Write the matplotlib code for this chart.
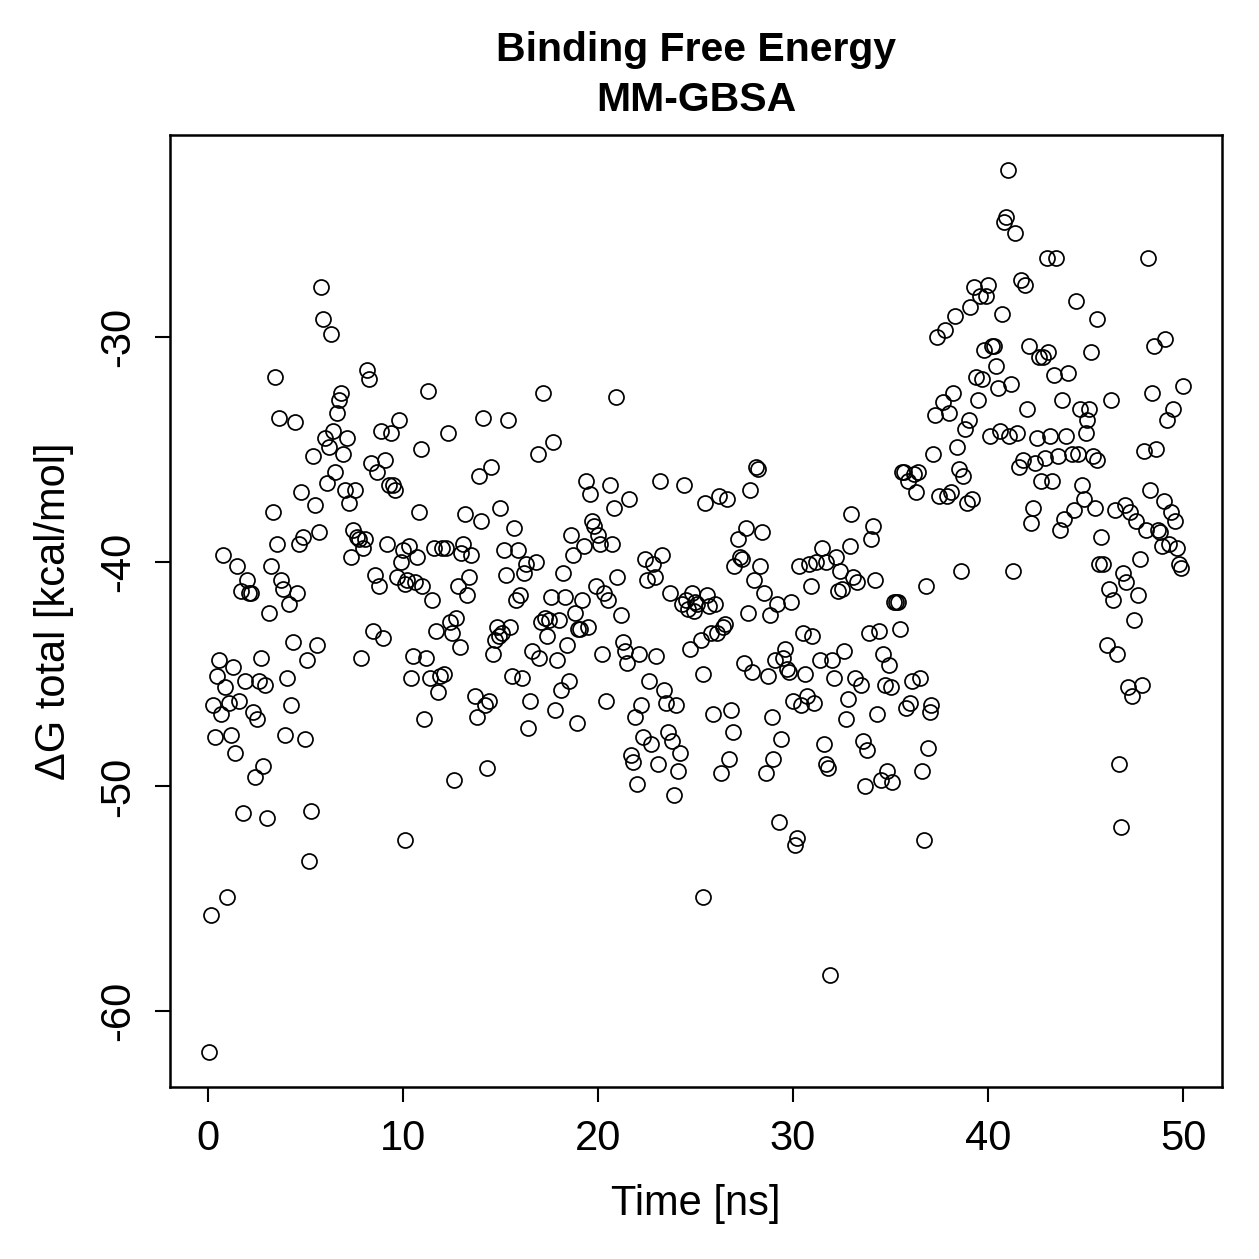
import matplotlib
matplotlib.use("Agg")
import matplotlib.pyplot as plt

plt.rcParams['font.family'] = ['Liberation Sans', 'DejaVu Sans']

# time [ns] and total binding free energy [kcal/mol]
time_ns = [
    0.05, 0.15, 0.26, 0.36, 0.46, 0.56, 0.67, 0.77, 0.87, 0.97,
    1.08, 1.18, 1.28, 1.38, 1.49, 1.59, 1.69, 1.79, 1.90, 2.00,
    2.10, 2.20, 2.31, 2.41, 2.51, 2.61, 2.72, 2.82, 2.92, 3.02,
    3.12, 3.23, 3.33, 3.43, 3.53, 3.64, 3.74, 3.84, 3.94, 4.05,
    4.15, 4.25, 4.35, 4.46, 4.56, 4.66, 4.76, 4.87, 4.97, 5.07,
    5.17, 5.28, 5.38, 5.48, 5.58, 5.69, 5.79, 5.89, 5.99, 6.10,
    6.20, 6.30, 6.40, 6.51, 6.61, 6.71, 6.81, 6.92, 7.02, 7.12,
    7.22, 7.33, 7.43, 7.53, 7.63, 7.74, 7.84, 7.94, 8.04, 8.15,
    8.25, 8.35, 8.45, 8.56, 8.66, 8.76, 8.86, 8.96, 9.07, 9.17,
    9.27, 9.37, 9.48, 9.58, 9.68, 9.78, 9.89, 9.99, 10.09, 10.09,
    10.19, 10.3, 10.4, 10.5, 10.6, 10.7, 10.8, 10.9, 11.0, 11.1,
    11.2, 11.3, 11.4, 11.5, 11.6, 11.7, 11.8, 11.9, 12.0, 12.1,
    12.2, 12.3, 12.4, 12.5, 12.6, 12.7, 12.8, 12.9, 13.0, 13.1,
    13.2, 13.3, 13.4, 13.5, 13.7, 13.8, 13.9, 14.0, 14.1, 14.2,
    14.3, 14.4, 14.5, 14.6, 14.7, 14.8, 14.9, 15.0, 15.1, 15.2,
    15.3, 15.4, 15.5, 15.6, 15.7, 15.8, 15.9, 16.0, 16.1, 16.2,
    16.3, 16.4, 16.5, 16.6, 16.8, 16.9, 17.0, 17.1, 17.2, 17.3,
    17.4, 17.5, 17.6, 17.7, 17.8, 17.9, 18.0, 18.1, 18.2, 18.3,
    18.4, 18.5, 18.6, 18.7, 18.8, 18.9, 19.0, 19.1, 19.2, 19.3,
    19.4, 19.5, 19.6, 19.7, 19.8, 19.9, 20.0, 20.1, 20.2, 20.3,
    20.4, 20.5, 20.6, 20.7, 20.8, 20.9, 21.0, 21.2, 21.3, 21.4,
    21.5, 21.6, 21.7, 21.8, 21.9, 22.0, 22.1, 22.2, 22.3, 22.4,
    22.5, 22.6, 22.7, 22.8, 22.9, 23.0, 23.1, 23.2, 23.3, 23.4,
    23.5, 23.6, 23.7, 23.8, 23.9, 24.0, 24.1, 24.2, 24.3, 24.4,
    24.5, 24.6, 24.7, 24.8, 24.9, 25.0, 25.1, 25.3, 25.4, 25.4,
    25.5, 25.6, 25.7, 25.8, 25.9, 26.0, 26.1, 26.2, 26.3, 26.4,
    26.5, 26.6, 26.7, 26.8, 26.9, 27.0, 27.2, 27.3, 27.4, 27.5,
    27.6, 27.7, 27.8, 27.9, 28.0, 28.1, 28.2, 28.3, 28.4, 28.5,
    28.6, 28.7, 28.8, 28.9, 29.0, 29.1, 29.2, 29.3, 29.4, 29.5,
    29.6, 29.7, 29.8, 29.9, 30.0, 30.1, 30.2, 30.3, 30.4, 30.5,
    30.6, 30.7, 30.8, 30.9, 31.0, 31.1, 31.2, 31.4, 31.5, 31.6,
    31.7, 31.7, 31.8, 31.9, 32.0, 32.1, 32.2, 32.3, 32.4, 32.5,
    32.6, 32.7, 32.8, 32.9, 33.0, 33.1, 33.2, 33.3, 33.5, 33.6,
    33.7, 33.8, 33.9, 34.0, 34.1, 34.2, 34.3, 34.4, 34.5, 34.6,
    34.7, 34.8, 34.9, 35.0, 35.1, 35.2, 35.3, 35.4, 35.5, 35.6,
    35.7, 35.8, 35.9, 36.0, 36.1, 36.2, 36.3, 36.4, 36.5, 36.6,
    36.7, 36.8, 36.9, 37.0, 37.1, 37.2, 37.3, 37.4, 37.5, 37.7,
    37.8, 37.9, 38.0, 38.1, 38.2, 38.3, 38.4, 38.5, 38.6, 38.7,
    38.8, 38.9, 39.0, 39.1, 39.2, 39.3, 39.4, 39.5, 39.6, 39.7,
    39.8, 39.9, 40.0, 40.1, 40.2, 40.3, 40.4, 40.5, 40.6, 40.7,
    40.8, 40.9, 41.0, 41.1, 41.2, 41.3, 41.4, 41.5, 41.6, 41.7,
    41.8, 41.9, 42.0, 42.1, 42.2, 42.3, 42.4, 42.5, 42.6, 42.7,
    42.8, 42.9, 43.0, 43.1, 43.2, 43.3, 43.4, 43.5, 43.6, 43.7,
    43.8, 43.9, 44.0, 44.1, 44.3, 44.4, 44.5, 44.6, 44.7, 44.8,
    44.9, 45.0, 45.1, 45.2, 45.3, 45.4, 45.5, 45.6, 45.6, 45.7,
    45.8, 45.9, 46.1, 46.2, 46.3, 46.4, 46.5, 46.6, 46.7, 46.8,
    46.9, 47.0, 47.1, 47.2, 47.3, 47.4, 47.5, 47.6, 47.7, 47.8,
    47.9, 48.0, 48.1, 48.2, 48.3, 48.4, 48.5, 48.6, 48.7, 48.8,
    48.9, 49.0, 49.1, 49.2, 49.3, 49.4, 49.5, 49.6, 49.7, 49.8,
    49.9, 50.0,
]
dg_total = [
    -61.8, -55.7, -46.4, -47.8, -45.1, -44.4, -46.8, -39.7, -45.6, -54.9,
    -46.3, -47.7, -44.7, -48.5, -40.2, -46.2, -41.3, -51.2, -45.3, -40.8,
    -41.4, -41.4, -46.7, -49.6, -47.0, -45.3, -44.3, -49.1, -45.5, -51.4,
    -42.3, -40.2, -37.8, -31.8, -39.2, -33.6, -40.8, -41.2, -47.7, -45.2,
    -41.9, -46.4, -43.6, -33.8, -41.4, -39.2, -36.9, -38.9, -47.9, -44.4,
    -53.3, -51.1, -35.3, -37.5, -43.7, -38.7, -27.8, -29.2, -34.5, -36.5,
    -34.9, -29.9, -34.2, -36.0, -33.4, -32.8, -32.5, -35.2, -36.8, -34.5,
    -37.4, -39.8, -38.6, -36.8, -38.9, -39.0, -44.3, -39.4, -39.0, -31.5,
    -31.9, -35.6, -43.1, -40.6, -36.0, -41.1, -34.2, -43.4, -35.5, -39.2,
    -36.6, -34.3, -36.6, -36.8, -40.7, -33.7, -40.0, -39.5, -41.0, -52.4,
    -40.8, -39.3, -45.2, -44.2, -40.9, -39.8, -37.8, -35.0, -41.1, -47.0,
    -44.3, -32.4, -45.2, -41.7, -39.4, -43.1, -45.8, -45.1, -39.4, -45.0,
    -39.4, -34.3, -42.7, -43.2, -49.7, -42.5, -41.1, -43.8, -39.6, -39.2,
    -37.9, -41.5, -40.7, -39.7, -46.0, -46.9, -36.2, -38.2, -33.6, -46.4,
    -49.2, -46.2, -35.8, -44.1, -43.5, -42.9, -43.3, -37.6, -43.2, -39.5,
    -40.6, -33.7, -42.9, -45.1, -38.5, -41.7, -39.5, -41.5, -45.2, -40.5,
    -40.1, -47.4, -46.2, -44.0, -40.0, -35.2, -44.3, -42.7, -32.5, -42.5,
    -43.3, -42.6, -41.6, -34.7, -46.6, -44.4, -42.6, -45.7, -40.5, -41.6,
    -43.7, -45.3, -38.8, -39.7, -42.3, -47.2, -43.0, -43.0, -41.7, -39.3,
    -36.4, -42.9, -37.0, -38.2, -38.4, -41.1, -38.8, -39.2, -44.1, -41.4,
    -46.2, -41.7, -36.6, -39.2, -37.6, -32.7, -40.7, -42.4, -43.6, -44.0,
    -44.5, -37.2, -48.6, -48.9, -46.9, -49.9, -44.1, -46.4, -47.8, -39.9,
    -40.8, -45.3, -48.1, -40.1, -40.7, -44.2, -49.0, -36.4, -39.7, -45.7,
    -46.3, -47.6, -41.4, -48.0, -50.4, -46.4, -49.3, -48.5, -41.9, -36.6,
    -41.7, -42.1, -43.9, -41.4, -42.2, -41.8, -41.9, -43.5, -45.0, -54.9,
    -37.4, -41.5, -42.0, -43.2, -46.8, -41.9, -43.2, -37.1, -49.4, -42.9,
    -42.8, -37.2, -48.8, -46.6, -47.6, -40.2, -39.0, -39.8, -39.9, -44.5,
    -38.5, -42.3, -36.8, -44.9, -40.8, -35.8, -35.9, -40.2, -38.7, -41.4,
    -49.4, -45.1, -42.4, -46.9, -48.8, -44.4, -41.9, -51.6, -47.9, -44.3,
    -43.9, -44.8, -44.9, -41.8, -46.2, -52.6, -52.3, -40.2, -46.4, -43.2,
    -45.0, -46.0, -40.1, -41.1, -43.3, -46.3, -40.0, -44.4, -39.4, -48.1,
    -40.0, -49.0, -49.2, -58.4, -44.4, -45.2, -39.8, -41.3, -40.4, -41.2,
    -44.0, -47.0, -46.1, -39.3, -37.9, -40.7, -45.2, -40.9, -45.5, -48.0,
    -50.0, -48.4, -43.2, -39.0, -38.4, -40.8, -46.8, -43.1, -49.7, -44.1,
    -45.5, -49.3, -44.6, -45.6, -49.8, -41.8, -41.8, -41.8, -43.0, -36.0,
    -36.0, -46.5, -36.4, -46.3, -45.3, -36.1, -36.9, -36.0, -45.2, -49.3,
    -52.4, -41.1, -48.3, -46.7, -46.4, -35.2, -33.5, -30.0, -37.1, -32.9,
    -29.7, -37.1, -33.4, -36.9, -32.5, -29.1, -34.9, -35.9, -40.4, -36.2,
    -34.1, -37.4, -33.7, -28.7, -37.2, -27.8, -31.8, -32.8, -28.2, -31.9,
    -30.6, -28.2, -27.7, -34.4, -30.4, -30.4, -31.3, -32.3, -34.2, -29.0,
    -24.9, -24.7, -22.6, -34.4, -32.1, -40.4, -25.4, -34.3, -35.8, -27.5,
    -35.5, -27.7, -33.2, -30.4, -38.3, -37.6, -35.6, -34.5, -30.9, -36.4,
    -30.9, -35.4, -26.5, -30.7, -34.4, -36.4, -31.7, -26.5, -35.3, -38.6,
    -32.8, -38.1, -34.4, -31.6, -35.2, -37.7, -28.4, -35.2, -33.2, -36.6,
    -37.2, -34.3, -33.7, -33.2, -30.7, -35.3, -37.6, -35.5, -29.2, -40.1,
    -38.9, -40.1, -43.7, -41.2, -32.8, -41.7, -37.7, -44.1, -49.0, -51.8,
    -40.5, -37.5, -40.9, -45.6, -37.8, -46.0, -42.6, -38.2, -41.5, -39.9,
    -45.5, -35.1, -38.6, -26.5, -36.8, -32.5, -30.4, -35.0, -38.6, -38.7,
    -39.3, -37.3, -30.1, -33.7, -39.2, -37.8, -33.2, -38.2, -39.4, -40.1,
    -40.3, -32.2,
]
x_ticks = [0, 10, 20, 30, 40, 50]
y_ticks = [-60, -50, -40, -30]

fig = plt.figure(figsize=(12.59, 12.59), dpi=100)
ax = fig.add_axes([0.135, 0.1366, 0.8356, 0.7562])

ax.plot(time_ns, dg_total, linestyle='none', marker='o', markersize=10.8,
        markerfacecolor='none', markeredgecolor='black', markeredgewidth=1.25)

# R-style 4% padding around the data range
xmin, xmax = min(time_ns), max(time_ns)
ymin, ymax = min(dg_total), max(dg_total)
xpad = 0.04 * (xmax - xmin)
ypad = 0.04 * (ymax - ymin)
ax.set_xlim(xmin - xpad, xmax + xpad)
ax.set_ylim(ymin - ypad, ymax + ypad)

ax.set_xticks(x_ticks)
ax.set_yticks(y_ticks)
ax.set_xticklabels([str(t) for t in x_ticks])
ax.set_yticklabels([str(t) for t in y_ticks], rotation=90, va='center')
ax.tick_params(axis='both', direction='out', length=11, width=1.5,
               labelsize=30, pad=12)

for s in ax.spines.values():
    s.set_linewidth(1.8)

ax.set_xlabel('Time [ns]', fontsize=30, labelpad=18)
ax.set_ylabel('ΔG total [kcal/mol]', fontsize=30, labelpad=17)
ax.set_title('Binding Free Energy\nMM-GBSA', fontsize=29.5, fontweight='bold',
             pad=17, linespacing=1.4)

fig.savefig('out.png', dpi=100)
